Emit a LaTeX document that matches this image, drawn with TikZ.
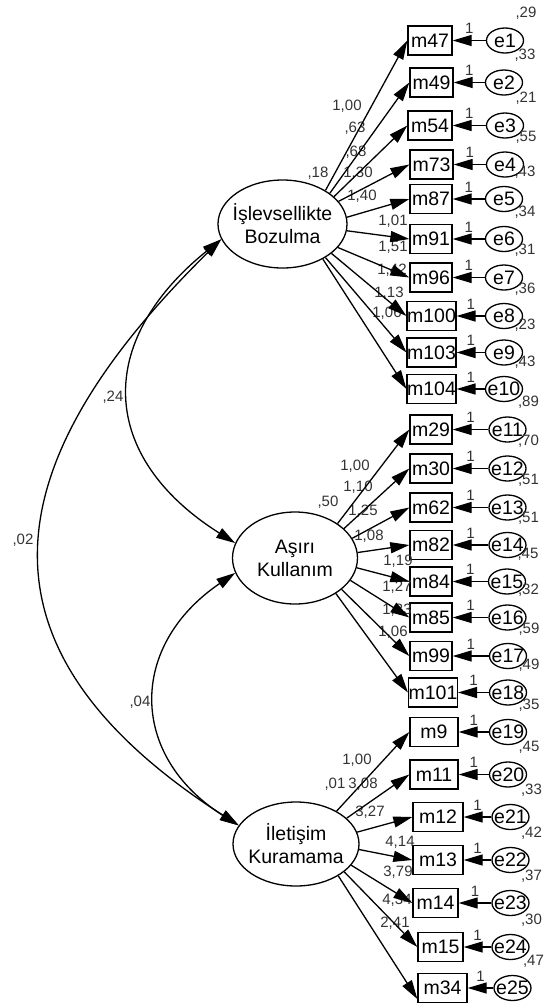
\documentclass[tikz,border=0pt]{standalone}
\usepackage{fontspec}
\setmainfont{Liberation Sans}
\usetikzlibrary{arrows.meta,calc,shapes.geometric}
\begin{document}
\begin{tikzpicture}[x=1pt,y=-1pt,
  >={Triangle[length=19pt,width=11pt]},
  latent/.style={draw, ellipse, line width=1.3pt, inner sep=-10pt, align=center,
    font=\fontsize{19.5}{23}\selectfont},
  obs/.style={draw, rectangle, line width=1.3pt, minimum height=29pt, inner sep=0pt,
    font=\fontsize{19.5}{22}\selectfont},
  err/.style={draw, ellipse, line width=1.3pt, minimum width=37pt, minimum height=25pt,
    inner sep=-10pt, font=\fontsize{19.5}{22}\selectfont},
  num/.style={font=\fontsize{15}{17}\selectfont, text=black!80, inner sep=0pt},
  pathar/.style={->, line width=1.3pt},
  cov/.style={<->, line width=1.3pt}]
\useasboundingbox (0,0) rectangle (544,1005);

% latent variables
\node[latent, minimum width=129pt, minimum height=88pt] (E1) at (282.5,224) {İşlevsellikte\\Bozulma};
\node[latent, minimum width=125pt, minimum height=92pt] (E2) at (295,558) {Aşırı\\Kullanım};
\node[latent, minimum width=126pt, minimum height=84pt] (E3) at (296,844) {İletişim\\Kuramama};

% indicators with error terms
\foreach \m/\e/\y/\bx/\bw/\ex/\v in {
 47/1/40.5/430/44/505/29, 49/2/82.5/431.5/43/504/33, 54/3/125.5/430/44/505/21,
 73/4/164.5/431.5/43/505/55, 87/5/199/431/42/504/43, 91/6/239/431/42/504/34,
 96/7/277.5/431/42/504/31, 100/8/316/431.5/47/504/36, 103/9/352.5/431.5/47/504/23,
 104/10/389/431.5/43/504/43,
 29/11/429.5/431/42/507.5/89, 30/12/468.5/431/42/507.5/70, 62/13/507.5/431/42/507.5/51,
 82/14/545/431/42/507.5/51, 84/15/581.5/431/42/507/45, 85/16/617.5/431/42/507.5/32,
 99/17/656/431/42/508/59, 101/18/692.5/433/44/508/49,
 9/19/732/434/48/508/35, 11/20/774.5/434/48/508/45, 12/21/817/438/50/510.5/33,
 13/22/860/438/50/510.5/42, 14/23/903/435.5/45/510.5/37, 15/24/947/440.5/45/510.5/30,
 34/25/988/442.5/49/512.5/47}
{
  \node[obs, minimum width=\bw pt] (m\m) at (\bx,\y) {m\m};
  \node[err] (e\e) at (\ex,\y) {e\e};
  \node[num] at ($(e\e)+(21,-27)$) {,\v};
  \draw[pathar] (e\e) -- node[num, midway, above=6pt] {1} (m\m);
}

% latent variances
\node[num] at (318,173) {,18};
\node[num] at (328,502) {,50};
\node[num] at (335,784) {,01};

% loadings labels
\node[num] at (347,106) {1,00};
\node[num] at (355,128) {,63};
\node[num] at (356,152) {,68};
\node[num] at (358,173) {1,30};
\node[num] at (362,196) {1,40};
\node[num] at (393,221) {1,01};
\node[num] at (393,247) {1,51};
\node[num] at (392,270) {1,42};
\node[num] at (389,293) {1,13};
\node[num] at (387,313) {1,06};

\node[num] at (355,466) {1,00};
\node[num] at (358,487) {1,10};
\node[num] at (363,511) {1,25};
\node[num] at (369,536) {1,08};
\node[num] at (398,561) {1,19};
\node[num] at (397,587) {1,27};
\node[num] at (397,610) {1,33};
\node[num] at (393,632) {1,06};

\node[num] at (357,760) {1,00};
\node[num] at (363,784) {3,08};
\node[num] at (370,812) {3,27};
\node[num] at (400,842) {4,14};
\node[num] at (398,872) {3,79};
\node[num] at (397,900) {4,34};
\node[num] at (395,923) {2,41};

% loading paths
\foreach \m/\a/\L in {47/38/E1, 49/33/E1, 54/28/E1, 73/22/E1, 87/6/E1, 91/-6/E1,
  96/-23/E1, 100/-31/E1, 103/-38/E1, 104/-41/E1,
  29/39/E2, 30/31/E2, 62/19/E2, 82/5.5/E2, 84/-9/E2, 85/-22/E2, 99/-34/E2, 101/-41/E2,
  9/39/E3, 11/27/E3, 12/11/E3, 13/-5/E3, 14/-21/E3, 15/-30/E3}
{
  \draw[pathar] (\L.\a) -- (m\m.west);
}
\draw[pathar] (E3.-37) -- ([yshift=-11pt]m34.west);

% covariances
\draw[cov] (E1.194) .. controls (-11,468) and (-33,651) .. (E3.162);
\draw[cov] (E1.194) .. controls (94,342) and (99,457) .. (E2.166);
\draw[cov] (E2.194) .. controls (128,646) and (129,756) .. (E3.162);
\node[num] at (113,397) {,24};
\node[num] at (23,540) {,02};
\node[num] at (140,702) {,04};
\end{tikzpicture}
\end{document}
